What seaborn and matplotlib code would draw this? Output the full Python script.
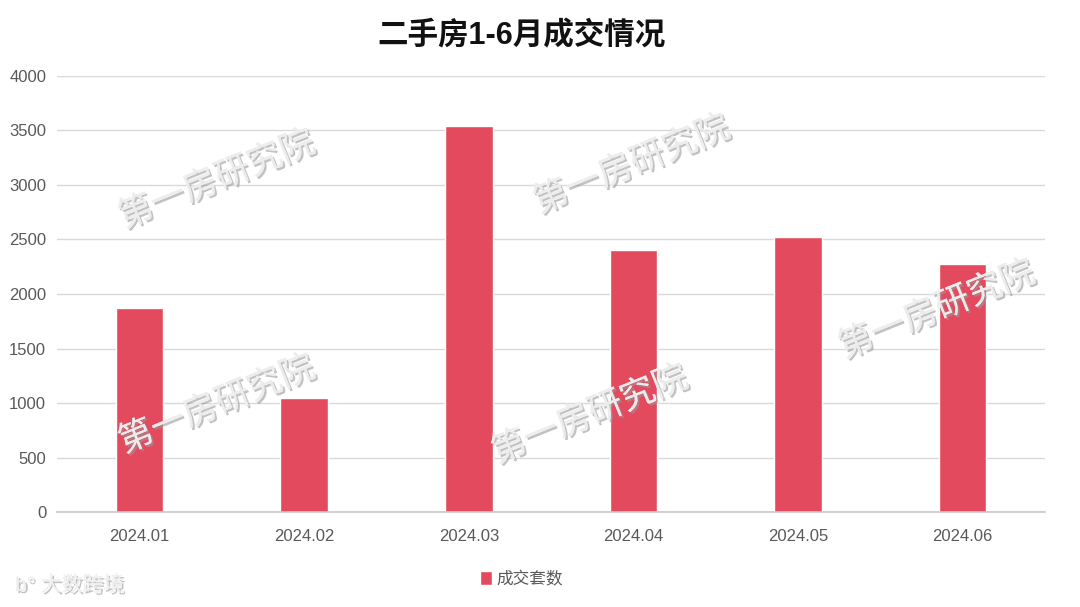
import pandas as pd
import seaborn as sns
import matplotlib.pyplot as plt
import matplotlib.patheffects as pe

# data
months = ['2024.01', '2024.02', '2024.03', '2024.04', '2024.05', '2024.06']
deals = [1870, 1050, 3540, 2400, 2520, 2272]
series_name = '成交套数'

df = pd.DataFrame({'month': months, 'deals': deals})

sns.set_theme(style='white')
plt.rcParams['font.family'] = ['Liberation Sans', 'Noto Sans CJK SC', 'DejaVu Sans']

fig = plt.figure(figsize=(10.8, 6.07), dpi=100)
ax = fig.add_axes([0.053, 0.1565, 0.9145, 0.7183])

sns.barplot(data=df, x='month', y='deals', color='#E34A5E', saturation=1,
            width=0.29, label=series_name, ax=ax)

ax.set_ylim(0, 4000)
ax.set_yticks(range(0, 4001, 500))
ax.set_xlim(-0.5, len(months) - 0.5)
ax.yaxis.grid(True, color='#D9D9D9', linewidth=1)
ax.set_axisbelow(True)
for s in ['top', 'right', 'left']:
    ax.spines[s].set_visible(False)
ax.spines['bottom'].set_color('#C8C8C8')
ax.spines['bottom'].set_linewidth(1.2)
ax.tick_params(axis='both', length=0, labelsize=12, labelcolor='#595959')
ax.tick_params(axis='x', pad=12)
ax.tick_params(axis='y', pad=8)
ax.set_xlabel('')
ax.set_ylabel('')

fig.suptitle('二手房1-6月成交情况', x=0.483, y=0.965, fontsize=22, fontweight='bold', color='#111111')

leg = ax.legend(loc='upper center', bbox_to_anchor=(0.47, -0.1), frameon=False,
                fontsize=12, handlelength=0.7, handleheight=0.9, handletextpad=0.3)
for t in leg.get_texts():
    t.set_color('#595959')

# watermarks
wm_fx = [pe.withSimplePatchShadow(offset=(1.5, -1.5), shadow_rgbFace='#9A9A9A', alpha=0.6), pe.Normal()]
for x, y in [(217, 180), (217, 405), (632, 165), (590, 415), (937, 310)]:
    fig.text(x / 1080, 1 - y / 607, '第一房研究院', fontsize=25, color='#EDEDED',
             rotation=22, ha='center', va='center', path_effects=wm_fx, alpha=0.9)
fig.text(15 / 1080, 1 - 585 / 607, 'b° 大数跨境', fontsize=15, color='#F0F0F0',
         ha='left', va='center', path_effects=wm_fx)

fig.savefig('out.png', dpi=100, facecolor='white')
